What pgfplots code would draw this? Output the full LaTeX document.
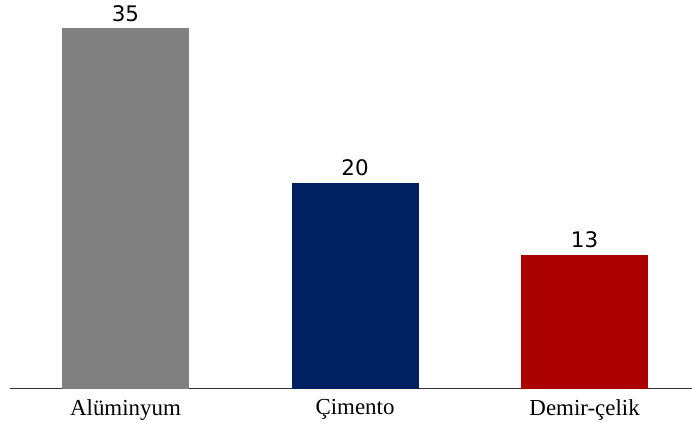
\documentclass[border=0pt]{standalone}
\usepackage{pgfplots}
\pgfplotsset{compat=1.18}
\usepackage{fontspec}
\setmainfont{Liberation Serif}
\newfontfamily\valfont{DejaVu Sans}
\definecolor{barGray}{HTML}{808080}
\definecolor{barNavy}{HTML}{002060}
\definecolor{barRed}{HTML}{AA0000}
\begin{document}
\begin{tikzpicture}
\begin{axis}[
  scale only axis,
  width=682bp, height=388.5bp,
  xmin=-0.503, xmax=2.468,
  ymin=0, ymax=37.76,
  axis x line=bottom,
  axis y line=none,
  x axis line style={-, draw=black!80, line width=1.3bp},
  xtick={0,1,2},
  xticklabels={Alüminyum, Çimento, Demir-çelik},
  major tick length=0pt,
  xticklabel style={font=\fontsize{23}{23}\selectfont, anchor=north, inner sep=0pt, yshift=-11bp},
  ytick=\empty,
  /pgf/number format/assume math mode=true,
  ybar, bar width=127bp, bar shift=0pt,
  nodes near coords={\valfont\fontsize{21.5}{21.5}\selectfont\pgfmathprintnumber{\pgfplotspointmeta}},
  every node near coord/.append style={anchor=south, inner sep=0pt, yshift=6.5bp, text=black},
  clip=false,
]
\addplot[fill=barGray, draw=none] coordinates {(0,35)};
\addplot[fill=barNavy, draw=none] coordinates {(1,20)};
\addplot[fill=barRed, draw=none] coordinates {(2,13)};
\end{axis}
\pgfresetboundingbox
\path[use as bounding box] ([shift={(-10bp,-34.5bp)}]current axis.south west) rectangle (current axis.north east);
\end{tikzpicture}
\end{document}
